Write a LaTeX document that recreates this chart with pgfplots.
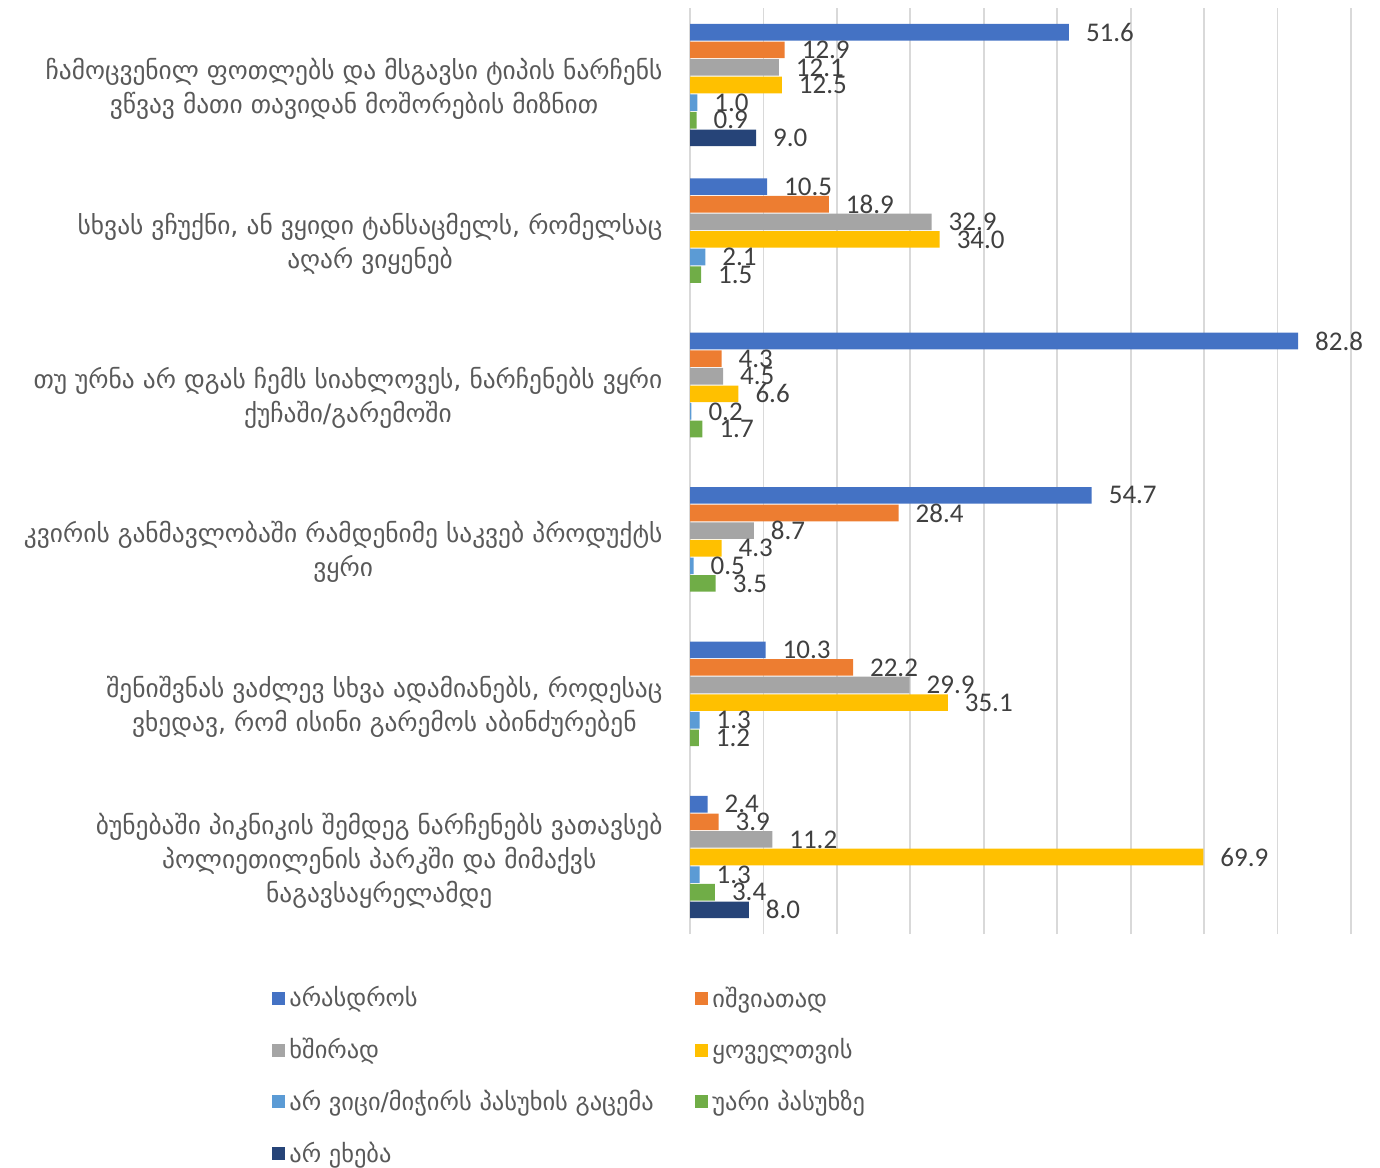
\documentclass[border=0pt]{standalone}
\usepackage{pgfplots}
\pgfplotsset{compat=1.18}
\usepackage{fontspec}
\setmainfont{DejaVu Sans}
\newfontfamily\numfont{Carlito}
\definecolor{c1}{HTML}{4472C4}
\definecolor{c2}{HTML}{ED7D31}
\definecolor{c3}{HTML}{A5A5A5}
\definecolor{c4}{HTML}{FFC000}
\definecolor{c5}{HTML}{5B9BD5}
\definecolor{c6}{HTML}{70AD47}
\definecolor{c7}{HTML}{264478}
\definecolor{gridc}{HTML}{D9D9D9}
\definecolor{labc}{HTML}{595959}
\definecolor{numc}{HTML}{404040}
\begin{document}
\begin{tikzpicture}
\useasboundingbox (0,0) rectangle (690pt,583.5pt);
\begin{axis}[
  at={(345pt,116.4pt)}, anchor=south west,
  width=330.5pt, height=463.2pt, scale only axis,
  xbar, bar width=8.3pt,
  xmin=0, xmax=90, ymin=-0.5, ymax=5.5,
  xtick={0,10,...,90}, xticklabels={},
  xmajorgrids, grid style={gridc, line width=0.9pt},
  axis line style={draw=none}, tick style={draw=none},
  ytick={0,1,2,3,4,5},
  yticklabels={
    {ბუნებაში პიკნიკის შემდეგ ნარჩენებს ვათავსებ\\პოლიეთილენის პარკში და მიმაქვს\\ნაგავსაყრელამდე},
    {შენიშვნას ვაძლევ სხვა ადამიანებს, როდესაც\\ვხედავ, რომ ისინი გარემოს აბინძურებენ},
    {კვირის განმავლობაში რამდენიმე საკვებ პროდუქტს\\ვყრი},
    {თუ ურნა არ დგას ჩემს სიახლოვეს, ნარჩენებს ვყრი\\ქუჩაში/გარემოში},
    {სხვას ვჩუქნი, ან ვყიდი ტანსაცმელს, რომელსაც\\აღარ ვიყენებ},
    {ჩამოცვენილ ფოთლებს და მსგავსი ტიპის ნარჩენს\\ვწვავ მათი თავიდან მოშორების მიზნით}
  },
  yticklabel style={align=center, text=labc, font=\fontsize{12.7}{17}\selectfont, xshift=-6pt, yshift=-2pt},
  clip=false,
  point meta=x,
  nodes near coords={\pgfmathprintnumber[fixed,fixed zerofill,precision=1,assume math mode=true]{\pgfplotspointmeta}},
  every node near coord/.append style={anchor=west, text=numc, font=\numfont\fontsize{13.5}{14}\selectfont, xshift=5pt},
  legend image code/.code={\fill[#1] (0pt,-3.25pt) rectangle (6.5pt,3.25pt);},
  legend columns=2, legend cell align=left,
  legend style={at={(rel axis cs:0,0)}, anchor=north west, xshift=-212pt, yshift=-22pt,
    draw=none, fill=none, font=\fontsize{12.2}{14}\selectfont, text=labc, row sep=10.2pt, column sep=0pt},
]
\addplot[fill=c1, draw=none, bar shift=26.4pt] coordinates {(51.6,5) (10.5,4) (82.8,3) (54.7,2) (10.3,1) (2.4,0)};
\addlegendentry{\makebox[201pt][l]{არასდროს}}
\addplot[fill=c2, draw=none, bar shift=17.6pt] coordinates {(12.9,5) (18.9,4) (4.3,3) (28.4,2) (22.2,1) (3.9,0)};
\addlegendentry{იშვიათად}
\addplot[fill=c3, draw=none, bar shift=8.8pt] coordinates {(12.1,5) (32.9,4) (4.5,3) (8.7,2) (29.9,1) (11.2,0)};
\addlegendentry{\makebox[201pt][l]{ხშირად}}
\addplot[fill=c4, draw=none, bar shift=0pt] coordinates {(12.5,5) (34.0,4) (6.6,3) (4.3,2) (35.1,1) (69.9,0)};
\addlegendentry{ყოველთვის}
\addplot[fill=c5, draw=none, bar shift=-8.8pt] coordinates {(1.0,5) (2.1,4) (0.2,3) (0.5,2) (1.3,1) (1.3,0)};
\addlegendentry{\makebox[201pt][l]{არ ვიცი/მიჭირს პასუხის გაცემა}}
\addplot[fill=c6, draw=none, bar shift=-17.6pt] coordinates {(0.9,5) (1.5,4) (1.7,3) (3.5,2) (1.2,1) (3.4,0)};
\addlegendentry{უარი პასუხზე}
\addplot[fill=c7, draw=none, bar shift=-26.4pt] coordinates {(9.0,5) (8.0,0)};
\addlegendentry{\makebox[201pt][l]{არ ეხება}}
\end{axis}
\end{tikzpicture}
\end{document}
